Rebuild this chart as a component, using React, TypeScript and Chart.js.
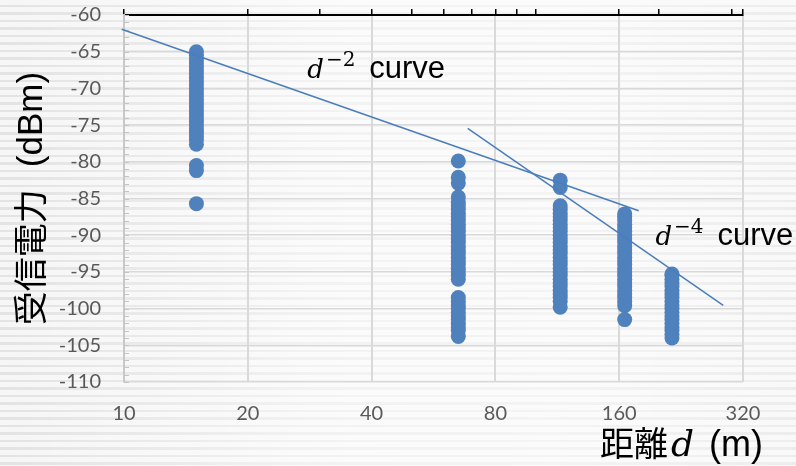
import React, { useEffect, useRef } from "react";
import { Chart, registerables } from "chart.js";

Chart.register(...registerables);

// ---- data ----
const xTickValues = [10, 20, 40, 80, 160, 320];
const topTickValues = [10, 20, 30, 40, 50, 60, 70, 80, 90, 100, 160, 200, 300, 320];
const yTickMin = -110;
const yTickMax = -60;
const yTickStep = 5;

const distances = [15, 65, 115, 165, 215];
const rssiAt15 = [-65, -65.5, -66, -66.5, -67, -67.5, -68, -68.5, -69, -69.5, -70, -70.5, -71, -71.5, -72, -72.5, -73, -73.5, -74, -74.5, -75, -75.5, -76, -76.5, -77, -77.6, -80.5, -81.2, -85.7];
const rssiAt65 = [-79.9, -82.1, -82.9, -84.8, -85.5, -86, -86.5, -87, -87.5, -88, -88.5, -89, -89.5, -90, -90.5, -91, -91.5, -92, -92.5, -93, -93.5, -94, -94.5, -95, -95.5, -96, -98.5, -99, -99.5, -100, -100.5, -101, -101.5, -102, -102.5, -103, -103.8];
const rssiAt115 = [-82.5, -83.5, -86, -86.5, -87, -87.5, -88, -88.5, -89, -89.5, -90, -90.5, -91, -91.5, -92, -92.5, -93, -93.5, -94, -94.5, -95, -95.5, -96, -96.5, -97, -97.5, -98, -98.5, -99, -99.8];
const rssiAt165 = [-87.1, -87.5, -88, -88.5, -89, -89.5, -90, -90.5, -91, -91.5, -92, -92.5, -93, -93.5, -94, -94.5, -95, -95.5, -96, -96.5, -97, -97.5, -98, -98.5, -99, -99.6, -101.5];
const rssiAt215 = [-95.3, -95.5, -96, -96.5, -97, -97.5, -98, -98.5, -99, -99.5, -100, -100.5, -101, -101.5, -102, -102.5, -103, -103.5, -104];
const rssiColumns = [rssiAt15, rssiAt65, rssiAt115, rssiAt165, rssiAt215];

const d2CurveX = [9.87, 178.5];
const d2CurveY = [-61.95, -86.66];
const d4CurveX = [68.5, 286.5];
const d4CurveY = [-75.44, -99.55];

// label anchors (data coordinates)
const d2LabelAt = { x: 27.9, y: -68.65, exp: "−2" };
const d4LabelAt = { x: 196, y: -91.3, exp: "−4" };

const yTitleCJK = "受信電力";
const yTitleUnit = "(dBm)";
const xTitleCJK = "距離";
const xTitleVar = "d";
const xTitleUnit = "(m)";

const BLUE = "#4F81BD";
const LINE_BLUE = "#4A7EBB";

const textPlugin = {
  id: "texts",
  beforeDatasetsDraw(chart: any) {
    const { ctx, chartArea, scales } = chart;
    const ys = scales.y;
    ctx.save();
    ctx.strokeStyle = "#c4c4c4";
    ctx.lineWidth = 1;
    for (let v = yTickMin; v <= yTickMax; v += 1) {
      const py = Math.round(ys.getPixelForValue(v)) + 0.5;
      ctx.beginPath();
      ctx.moveTo(chartArea.left, py);
      ctx.lineTo(chartArea.left + 5, py);
      ctx.stroke();
    }
    ctx.restore();
  },
  afterDraw(chart: any) {
    const { ctx, chartArea, scales } = chart;
    const xs = scales.x;
    const ys = scales.y;
    // y title (rotated), drawn as CJK part + gap + unit, centred on the plot
    ctx.save();
    ctx.translate(30, (chartArea.top + chartArea.bottom) / 2);
    ctx.rotate(-Math.PI / 2);
    ctx.fillStyle = "#000";
    ctx.textBaseline = "middle";
    ctx.textAlign = "left";
    ctx.font = '34px "Noto Sans CJK JP"';
    const w1 = ctx.measureText(yTitleCJK).width;
    ctx.font = '35px "Liberation Sans"';
    const w2 = ctx.measureText(yTitleUnit).width;
    const gap = 22;
    const total = w1 + gap + w2;
    let sx = -total / 2;
    ctx.font = '34px "Noto Sans CJK JP"';
    ctx.fillText(yTitleCJK, sx, 0);
    sx += w1 + gap;
    ctx.font = '35px "Liberation Sans"';
    ctx.fillText(yTitleUnit, sx, 2);
    ctx.restore();

    // x title
    ctx.save();
    ctx.fillStyle = "#000";
    ctx.textBaseline = "alphabetic";
    ctx.textAlign = "left";
    let xx = 600;
    const by = 456;
    ctx.font = '34px "Noto Sans CJK JP"';
    ctx.fillText(xTitleCJK, xx, by);
    xx += ctx.measureText(xTitleCJK).width + 3;
    ctx.font = 'italic 36px "DejaVu Serif"';
    ctx.fillText(xTitleVar, xx, by);
    xx += ctx.measureText(xTitleVar).width + 15;
    ctx.font = '36px "Liberation Sans"';
    ctx.fillText(xTitleUnit, xx, by);
    ctx.restore();

    // curve labels
    const drawLabel = (lab: any) => {
      const px = xs.getPixelForValue(lab.x);
      const py = ys.getPixelForValue(lab.y);
      ctx.save();
      ctx.fillStyle = "#000";
      ctx.textAlign = "left";
      ctx.textBaseline = "alphabetic";
      ctx.font = 'italic 26px "DejaVu Serif"';
      ctx.fillText("d", px, py);
      let cx = px + ctx.measureText("d").width + 2;
      ctx.font = '20px "DejaVu Serif"';
      ctx.fillText(lab.exp, cx, py - 12);
      cx = px + 62;
      ctx.font = '31px "Liberation Sans"';
      ctx.fillText("curve", cx, py);
      ctx.restore();
    };
    drawLabel(d2LabelAt);
    drawLabel(d4LabelAt);
  },
};

export default function App() {
  const ref = useRef<HTMLCanvasElement | null>(null);
  useEffect(() => {
    if (!ref.current) return;
    const scatterPoints: { x: number; y: number }[] = [];
    distances.forEach((d, i) => {
      rssiColumns[i].forEach((v) => scatterPoints.push({ x: d, y: v }));
    });
    const d2Points = d2CurveX.map((x, i) => ({ x, y: d2CurveY[i] }));
    const d4Points = d4CurveX.map((x, i) => ({ x, y: d4CurveY[i] }));

    const chart = new Chart(ref.current, {
      type: "scatter",
      data: {
        datasets: [
          {
            label: "d-2",
            data: d2Points,
            showLine: true,
            borderColor: LINE_BLUE,
            borderWidth: 1.5,
            pointRadius: 0,
            clip: false as any,
          } as any,
          {
            label: "d-4",
            data: d4Points,
            showLine: true,
            borderColor: LINE_BLUE,
            borderWidth: 1.5,
            pointRadius: 0,
            clip: false as any,
          } as any,
          {
            label: "measured",
            data: scatterPoints,
            backgroundColor: BLUE,
            borderWidth: 0,
            pointRadius: 7.5,
          },
        ],
      },
      options: {
        responsive: false,
        animation: false,
        layout: { padding: { left: 0, right: 53, top: 0, bottom: 0 } },
        plugins: { legend: { display: false }, tooltip: { enabled: false } },
        scales: {
          x: {
            type: "logarithmic",
            position: "bottom",
            min: 10,
            max: 320,
            afterBuildTicks: (s: any) => {
              s.ticks = xTickValues.map((v) => ({ value: v }));
            },
            afterFit: (s: any) => {
              s.height = 84;
              s.paddingLeft = 0;
              s.paddingRight = 0;
            },
            ticks: {
              callback: (v: any) => String(v),
              font: { family: "Lato", size: 20 },
              color: "#595959",
              padding: 20,
              maxRotation: 0,
              autoSkip: false,
            },
            grid: { color: "#d9d9d9", lineWidth: 2, drawTicks: false },
            border: { display: false },
          },
          x2: {
            type: "logarithmic",
            position: "top",
            min: 10,
            max: 320,
            afterBuildTicks: (s: any) => {
              s.ticks = topTickValues.map((v) => ({ value: v }));
            },
            afterFit: (s: any) => {
              s.height = 15;
              s.paddingLeft = 0;
              s.paddingRight = 0;
            },
            ticks: { display: false },
            grid: { drawOnChartArea: false, drawTicks: true, tickLength: 6, color: "#000", lineWidth: 1.5 },
            border: { display: true, color: "#000", width: 2 },
          },
          y: {
            type: "linear",
            min: yTickMin,
            max: yTickMax,
            afterFit: (s: any) => {
              s.width = 124;
              s.paddingTop = 0;
              s.paddingBottom = 0;
            },
            ticks: {
              stepSize: yTickStep,
              font: { family: "Lato", size: 20 },
              color: "#595959",
              padding: 23,
            },
            grid: { color: "#d9d9d9", lineWidth: 1.5, drawTicks: false },
            border: { display: true, color: "#c8c8c8", width: 2 },
          },
        },
      },
      plugins: [textPlugin],
    });
    return () => chart.destroy();
  }, []);

  return (
    <div
      style={{
        position: "absolute",
        left: 0,
        top: 0,
        width: 796,
        height: 466,
        background:
          "linear-gradient(90deg, rgba(255,255,255,0) 0%, rgba(255,255,255,0.55) 40%, rgba(255,255,255,0.6) 70%, rgba(255,255,255,0.35) 100%), repeating-linear-gradient(180deg, #f6f6f6 0px, #f6f6f6 5px, #e3e3e3 5px, #e3e3e3 7.5px)",
      }}
    >
      <canvas ref={ref} width={796} height={466} style={{ display: "block" }} />
    </div>
  );
}
